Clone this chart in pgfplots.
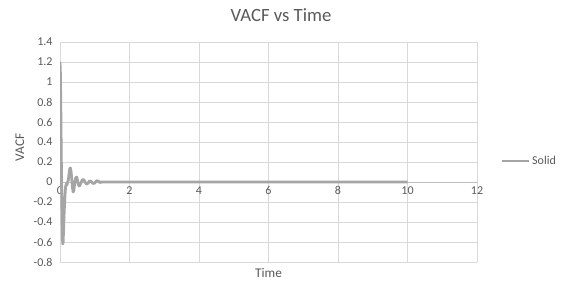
\documentclass[border=0pt]{standalone}
\usepackage{fontspec}
\setmainfont{Carlito}
\usepackage{pgfplots}
\pgfplotsset{compat=1.18}
\definecolor{gridc}{HTML}{D9D9D9}
\definecolor{axc}{HTML}{BFBFBF}
\definecolor{txt}{HTML}{595959}
\definecolor{ser}{HTML}{A5A5A5}
\begin{document}
\begin{tikzpicture}[x=1bp,y=1bp]
\useasboundingbox (0,0) rectangle (566,294);
\begin{axis}[
  at={(60bp,32bp)}, anchor=south west,
  scale only axis, width=417bp, height=220bp,
  xmin=0, xmax=12, ymin=-0.8, ymax=1.4,
  xtick={0,2,4,6,8,10,12}, xticklabels={0,2,4,6,8,10,12},
  ytick={-0.8,-0.6,-0.4,-0.2,0,0.2,0.4,0.6,0.8,1,1.2,1.4},
  yticklabels={-0.8,-0.6,-0.4,-0.2,0,0.2,0.4,0.6,0.8,1,1.2,1.4},
  axis x line=middle, axis y line=left,
  hide obscured x ticks=false,
  every inner x axis line/.append style={-},
  every outer y axis line/.append style={-},
  x axis line style={-, draw=axc, line width=0.75bp},
  y axis line style={-, draw=gridc, line width=0.75bp},
  grid=major, major grid style={draw=gridc, line width=0.75bp},
  major tick length=0pt,
  tick label style={font=\fontsize{12bp}{14bp}\selectfont, text=txt},
  yticklabel style={xshift=-4bp},
  xticklabel style={yshift=-1bp},
  title={VACF vs Time},
  title style={at={(axis description cs:0.53,1.095)}, anchor=center, font=\fontsize{18.7bp}{22bp}\selectfont, text=txt},
  xlabel={Time},
  xlabel style={at={(axis description cs:0.5,-0.05)}, anchor=center, font=\fontsize{13.3bp}{15bp}\selectfont, text=txt},
  ylabel={VACF},
  ylabel style={at={(axis description cs:-0.096,0.52)}, anchor=center, rotate=0, font=\fontsize{13.3bp}{15bp}\selectfont, text=txt},
  legend style={at={(axis description cs:1.125,0.459)}, anchor=center, draw=none, fill=none, font=\fontsize{12bp}{14bp}\selectfont, text=txt, inner sep=0pt},
  legend cell align=left,
  legend image code/.code={\draw[#1] (0,0) -- (0.95cm,0);},
]
\addplot[color=ser, line width=2.8bp, mark=none, line join=round] coordinates {
(0,1.2) (0.01,1.1) (0.02,0.85) (0.03,0.5) (0.04,0.15) (0.05,-0.15) (0.06,-0.4) (0.07,-0.55) (0.08,-0.62) (0.09,-0.6) (0.1,-0.5) (0.12,-0.3) (0.14,-0.15) (0.16,-0.05) (0.18,-0.02) (0.2,-0.03) (0.22,0.0) (0.24,0.02) (0.26,0.08) (0.28,0.13) (0.3,0.14) (0.32,0.1) (0.34,0.02) (0.36,-0.06) (0.38,-0.1) (0.4,-0.08) (0.42,-0.02) (0.45,0.04) (0.48,0.05) (0.5,0.02) (0.53,-0.03) (0.56,-0.04) (0.6,-0.01) (0.64,0.02) (0.68,0.025) (0.72,0.0) (0.76,-0.02) (0.8,-0.015) (0.85,0.01) (0.9,0.005) (0.95,-0.015) (1.0,-0.01) (1.05,0.012) (1.1,0.01) (1.15,-0.005) (1.2,0) (2,0) (4,0) (6,0) (8,0) (10,0)
};
\addlegendentry{Solid}
\end{axis}
\end{tikzpicture}
\end{document}
